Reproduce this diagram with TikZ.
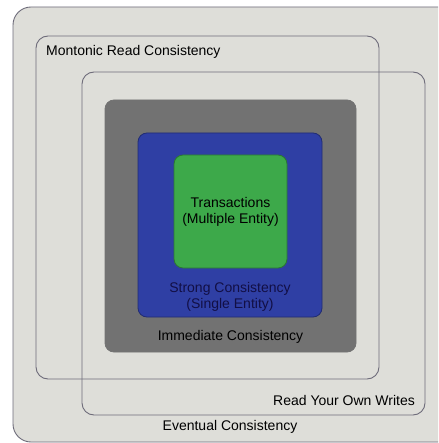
\documentclass[tikz,border=0pt]{standalone}
\usepackage{fontspec}
\setmainfont{Liberation Sans}
\definecolor{paper}{HTML}{DEDED9}
\definecolor{frame}{HTML}{6E6C7A}
\definecolor{immgray}{HTML}{727272}
\definecolor{strongblue}{HTML}{2F3FA4}
\definecolor{txgreen}{HTML}{3DA94A}
\definecolor{navytext}{HTML}{120F45}
\begin{document}
\begin{tikzpicture}[x=1pt, y=-1pt,
        region/.style={rectangle, draw=frame, line width=0.9pt, rounded corners=12pt, inner sep=0pt},
        solid/.style={rectangle, draw=black!55, line width=0.8pt, rounded corners=9pt, inner sep=0pt},
        boxtext/.style={font=\fontsize{14}{16.5}\selectfont, text=black, inner sep=0pt, align=center}
    ]
        \useasboundingbox (0,0) rectangle (438,443);
        \fill[white] (0,0) rectangle (438,443);
        \clip (0,0) rectangle (438,443);

        \node[region, fill=paper, minimum width=445pt, minimum height=435pt, rounded corners=18pt] (eventual) at (235.5,224.5) {};
        \node[region, minimum width=343pt, minimum height=343pt] (monotonic) at (207.5,207.5) {};
        \node[region, minimum width=343pt, minimum height=343pt] (ryow) at (253.5,243.5) {};
        \node[solid, fill=immgray, minimum width=251pt, minimum height=252pt] (immediate) at (230.5,226) {};
        \node[solid, fill=strongblue, draw=strongblue!70!black, minimum width=184pt, minimum height=184pt] (strong) at (230,225) {};
        \node[solid, fill=txgreen, draw=txgreen!70!black, minimum width=113pt, minimum height=113pt] (transactions) at (230.5,211.5) {};

        \node[boxtext, anchor=west] (monotonictext) at (46,52) {Montonic Read Consistency};
        \node[boxtext, anchor=east] (ryowtext) at (415,400) {Read Your Own Writes};
        \node[boxtext] (eventualtext) at (230,427) {Eventual Consistency};
        \node[boxtext] (immediatetext) at (230.5,337) {Immediate Consistency};
        \node[boxtext, text=navytext] (strongtext) at (230,297) {Strong Consistency\\(Single Entity)};
        \node[boxtext] (transactionstext) at (230.5,212) {Transactions\\(Multiple Entity)};
    \end{tikzpicture}
\end{document}
